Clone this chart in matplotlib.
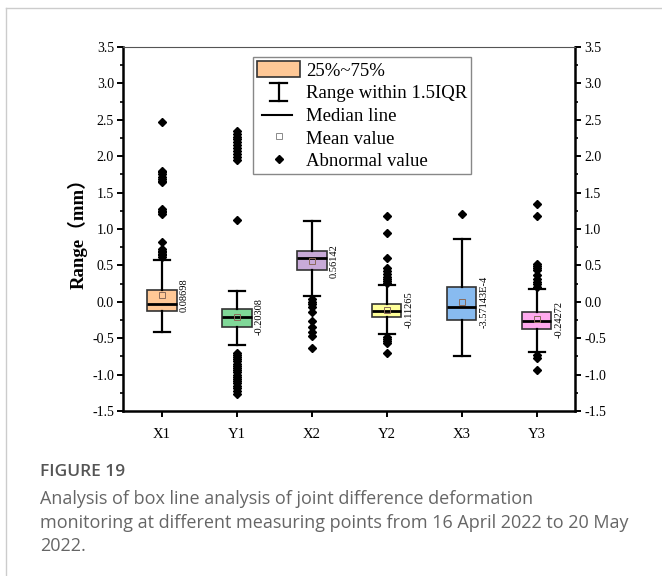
import matplotlib
matplotlib.use("Agg")
import matplotlib.pyplot as plt
from matplotlib.lines import Line2D
from matplotlib.patches import Patch
from matplotlib.legend_handler import HandlerBase
from matplotlib.ticker import MultipleLocator, FormatStrFormatter

plt.rcParams['axes.unicode_minus'] = False
plt.rcParams['font.family'] = ['Liberation Serif', 'Noto Sans CJK SC', 'DejaVu Sans']

# ---------------- data ----------------
categories = ["X1", "Y1", "X2", "Y2", "X3", "Y3"]
medians = [-0.03, -0.205, 0.605, -0.12, -0.065, -0.27]
q1s = [-0.12, -0.34, 0.44, -0.21, -0.25, -0.37]
q3s = [0.16, -0.10, 0.70, -0.035, 0.205, -0.145]
whis_low = [-0.41, -0.60, 0.085, -0.44, -0.74, -0.685]
whis_high = [0.57, 0.15, 1.11, 0.23, 0.865, 0.17]
means = [0.08698, -0.20308, 0.56142, -0.11265, -3.57143e-4, -0.24272]
mean_labels = ["0.08698", "-0.20308", "0.56142", "-0.11265", "-3.57143E-4", "-0.24272"]
outliers = [
    [0.62, 0.64, 0.66, 0.68, 0.70, 0.72, 0.82, 1.21, 1.23, 1.25, 1.28,
     1.64, 1.66, 1.69, 1.72, 1.75, 1.78, 1.80, 2.47],
    [1.12, 1.95, 1.99, 2.03, 2.07, 2.11, 2.15, 2.19, 2.23, 2.27, 2.31, 2.35,
     -0.70, -0.73, -0.76, -0.79, -0.82, -0.85, -0.88, -0.91, -0.94, -0.97,
     -1.00, -1.03, -1.06, -1.09, -1.12, -1.15, -1.18, -1.22, -1.26],
    [0.04, 0.00, -0.03, -0.07, -0.14, -0.26, -0.34, -0.42, -0.47, -0.64],
    [1.18, 0.95, 0.60, 0.46, 0.42, 0.38, 0.34, 0.31, 0.28, 0.26,
     -0.48, -0.51, -0.54, -0.57, -0.70],
    [1.20],
    [1.35, 1.18, 0.52, 0.49, 0.46, 0.44, 0.37, 0.32, 0.27, 0.24, 0.21,
     -0.73, -0.77, -0.93],
]
box_colors = ["#FFC896", "#80D898", "#C8AAD8", "#FFFF99", "#88BBF0", "#FFAAEE"]
y_ticks = [-1.5, -1.0, -0.5, 0.0, 0.5, 1.0, 1.5, 2.0, 2.5, 3.0, 3.5]
legend_labels = ["25%~75%", "Range within 1.5IQR", "Median line", "Mean value", "Abnormal value"]

# ---------------- figure ----------------
fig = plt.figure(figsize=(6.62, 5.76), dpi=100)
ax = fig.add_axes([123/662, 1-411/576, (575-123)/662, 364/576])

positions = list(range(1, len(categories)+1))
stats = []
for i in range(len(categories)):
    stats.append(dict(med=medians[i], q1=q1s[i], q3=q3s[i], whislo=whis_low[i],
                      whishi=whis_high[i], mean=means[i], fliers=outliers[i]))

bp = ax.bxp(stats, positions=positions, widths=0.39, patch_artist=True,
            showmeans=True, showfliers=True, capwidths=0.21,
            boxprops=dict(edgecolor="#333333", linewidth=1.2),
            whiskerprops=dict(color="black", linewidth=1.6),
            capprops=dict(color="black", linewidth=1.6),
            medianprops=dict(color="black", linewidth=2.0),
            meanprops=dict(marker="s", markersize=4.5, markerfacecolor="none",
                           markeredgecolor="#8a6a5a", markeredgewidth=0.7),
            flierprops=dict(marker="D", markersize=4.0, markerfacecolor="black",
                            markeredgecolor="black"))
for patch, c in zip(bp['boxes'], box_colors):
    patch.set_facecolor(c)

for p, m, lab in zip(positions, means, mean_labels):
    ax.text(p + 0.30, m, lab, rotation=90, ha="center", va="center", fontsize=7.5)

ax.set_xlim(0.48, 6.51)
ax.set_ylim(-1.5, 3.5)
ax.set_xticks(positions)
ax.set_xticklabels(categories, fontsize=10.5)
ax.set_yticks(y_ticks)
ax.yaxis.set_major_formatter(FormatStrFormatter('%.1f'))
ax.yaxis.set_minor_locator(MultipleLocator(0.25))
ax.tick_params(axis='y', which='major', direction='out', length=4.5, width=1.4,
               labelsize=10, left=True, right=True, labelleft=True, labelright=True, pad=2)
ax.tick_params(axis='y', which='minor', direction='out', length=2.5, width=1.2,
               left=True, right=True)
ax.tick_params(axis='x', which='major', direction='out', length=4.5, width=1.4, pad=8)
for s in ['left', 'right', 'bottom']:
    ax.spines[s].set_linewidth(1.8)
    ax.spines[s].set_color('black')
ax.spines['top'].set_linewidth(0.8)
ax.spines['top'].set_color('#555555')

ax.set_ylabel("Range（mm）", fontsize=13.5, fontweight='bold', labelpad=3)


class HandlerIBar(HandlerBase):
    def create_artists(self, legend, orig_handle, xdescent, ydescent, width, height,
                       fontsize, trans):
        cx = width / 2 - xdescent
        y0 = -ydescent - height * 0.05
        y1 = height * 1.05 - ydescent
        cw = width * 0.38
        arts = [Line2D([cx, cx], [y0, y1]),
                Line2D([cx - cw/2, cx + cw/2], [y0, y0]),
                Line2D([cx - cw/2, cx + cw/2], [y1, y1])]
        for a in arts:
            a.set_color('black')
            a.set_linewidth(1.6)
            a.set_transform(trans)
        return arts


class HandlerShortLine(HandlerBase):
    def create_artists(self, legend, orig_handle, xdescent, ydescent, width, height,
                       fontsize, trans):
        y = height / 2 - ydescent
        ln = Line2D([width * 0.12 - xdescent, width * 0.82 - xdescent], [y, y],
                    color='black', linewidth=1.5, transform=trans)
        return [ln]


h_box = Patch(facecolor=box_colors[0], edgecolor="#333333", linewidth=1.2)
h_range = Line2D([], [])
h_med = Line2D([], [], color='black', linewidth=1.5)
h_mean = Line2D([], [], linestyle='none', marker='s', markersize=4.5,
                markerfacecolor='none', markeredgecolor='#8a8a8a', markeredgewidth=0.7)
h_out = Line2D([], [], linestyle='none', marker='D', markersize=3.8,
               markerfacecolor='black', markeredgecolor='black')
leg = ax.legend([h_box, h_range, h_med, h_mean, h_out], legend_labels,
                handler_map={h_range: HandlerIBar(), h_med: HandlerShortLine()},
                loc='upper left', bbox_to_anchor=((253-123)/452, (411-57)/364),
                borderaxespad=0, fancybox=False, edgecolor='#888888', fontsize=13.5,
                handlelength=2.3, handleheight=0.95, labelspacing=0.22,
                borderpad=0.22, handletextpad=0.3, framealpha=1)
leg.get_frame().set_linewidth(1.0)

# page frame lines
fig.add_artist(Line2D([6/662, 1], [1-8/576, 1-8/576], color='#cccccc', linewidth=1.0,
                      transform=fig.transFigure))
fig.add_artist(Line2D([6/662, 6/662], [0, 1-8/576], color='#cccccc', linewidth=1.0,
                      transform=fig.transFigure))

# caption
fig.text(40/662, 1-471.5/576, "FIGURE 19", fontsize=12.5, color='#555555',
         family='Open Sans', fontweight='semibold', va='center', ha='left')
caption = ("Analysis of box line analysis of joint difference deformation\n"
           "monitoring at different measuring points from 16 April 2022 to 20 May\n"
           "2022.")
fig.text(40/662, 1-490/576, caption, fontsize=13, color='#666666', family='Open Sans',
         va='top', ha='left', linespacing=1.4)

fig.savefig("out.png", dpi=100)
